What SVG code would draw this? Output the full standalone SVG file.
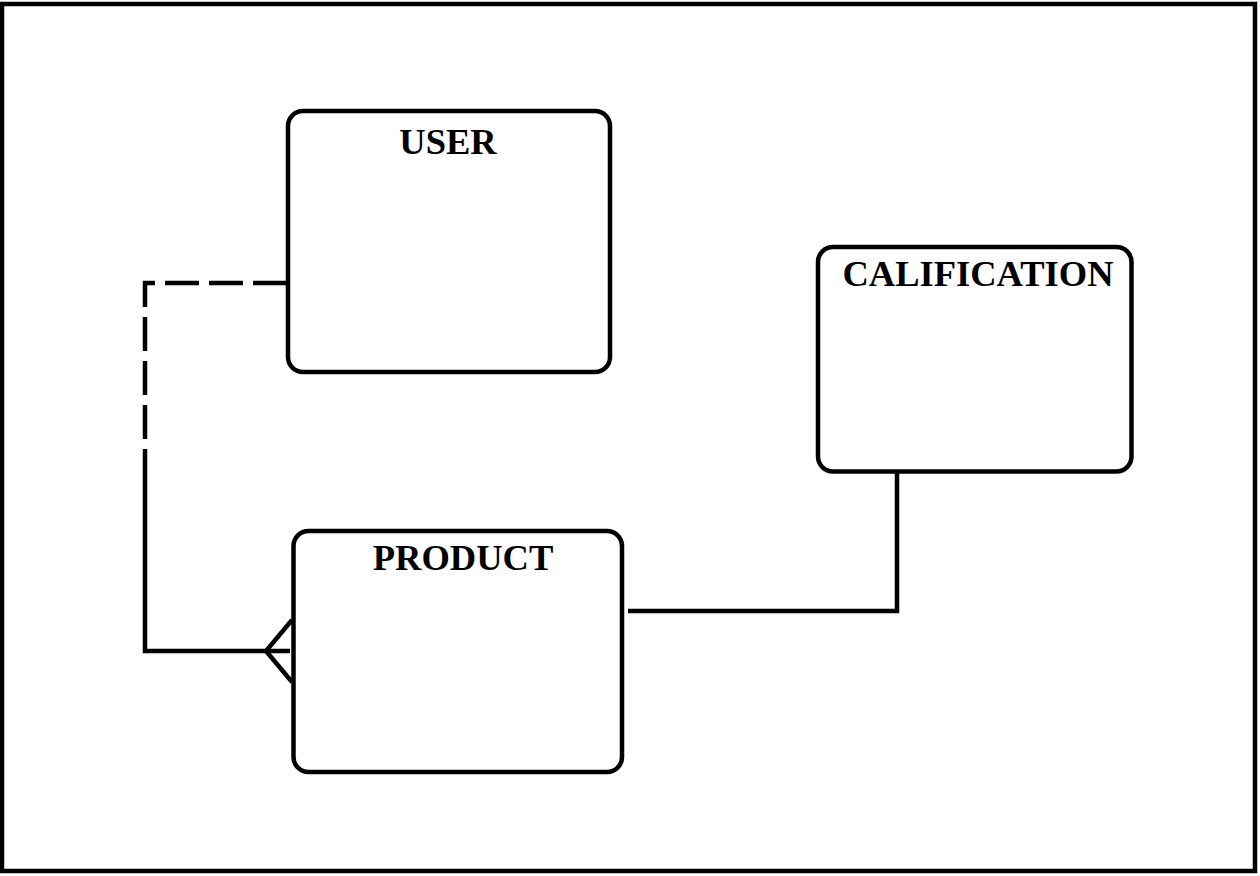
<svg xmlns="http://www.w3.org/2000/svg" width="1260" height="876" viewBox="0 0 1260 876">
<style>
.box{fill:#fff;stroke:#000;stroke-width:4.5}
.lbl{font-family:"Liberation Serif","Times New Roman",serif;font-weight:bold;font-size:36.5px;fill:#000;text-anchor:middle}
.ln{fill:none;stroke:#000;stroke-width:4.5}
.dash{stroke-dasharray:34,10}
</style>
<rect x="0" y="0" width="1260" height="876" fill="#fff"/>
<rect x="2" y="4" width="1253" height="867" fill="none" stroke="#000" stroke-width="4.5"/>
<g id="connectors">
<path class="ln dash" d="M287,283 H145 V452"/>
<path class="ln" d="M145,452 V651 H290"/>
<path class="ln" d="M292,620 L266,651 L292,682"/>
<path class="ln" d="M628,611 H897 V471"/>
</g>
<g id="user">
<rect class="box" x="288" y="111" width="322" height="261" rx="15"/>
<text class="lbl" x="448" y="154">USER</text>
</g>
<g id="calification">
<rect class="box" x="818" y="247" width="313.5" height="224.5" rx="15"/>
<text class="lbl" x="978" y="286">CALIFICATION</text>
</g>
<g id="product">
<rect class="box" x="293.5" y="531" width="328.5" height="241" rx="15"/>
<text class="lbl" x="463" y="570">PRODUCT</text>
</g>
</svg>
